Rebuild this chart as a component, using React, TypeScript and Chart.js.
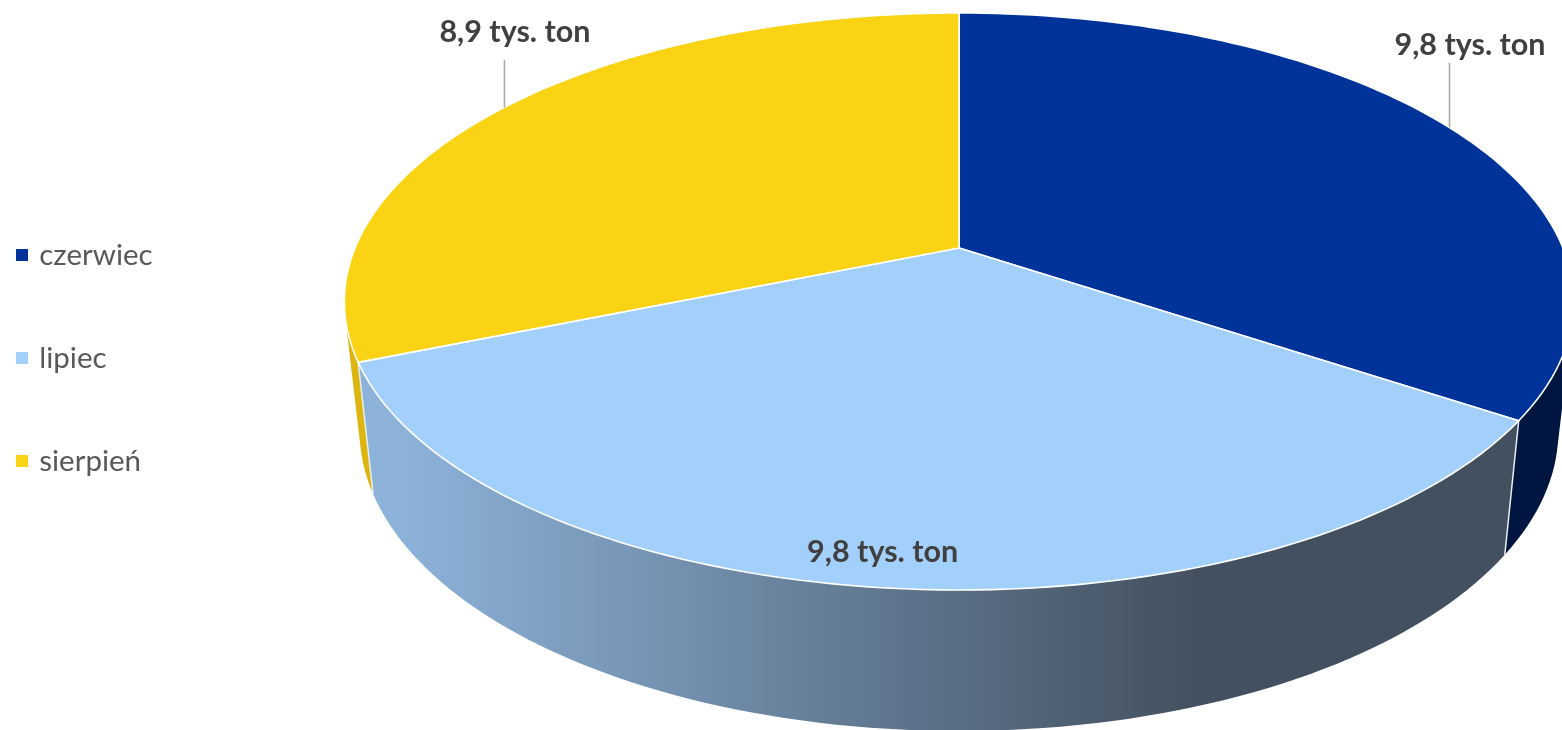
import React, { useEffect, useRef } from "react";
import { Chart, registerables } from "chart.js";

Chart.register(...registerables);

const months = ["czerwiec", "lipiec", "sierpień"];
const tonnes = [9.8, 9.8, 8.9];
const valueLabels = ["9,8 tys. ton", "9,8 tys. ton", "8,9 tys. ton"];
const topColors = ["#003399", "#A3CFFB", "#F9D314"];
const sideColors = ["#00153F", "#8DB2D9", "#DDB511"];

const UI_FONT = "Lato, 'Open Sans', sans-serif";
const CX = 959;
const K = 0.1854;
const TOP_PLANE = { a: 604, b: 278.6, cy: 248 };
const BOTTOM_PLANE = { a: 589, b: 290, cy: 375 };
const LEGEND_FONT = 29.5;
const LEGEND_PADDING = 103 - LEGEND_FONT;
// offset of each value label from the rim point at the middle of its slice
const LABEL_OFFSET = [
  { dx: 21, dy: -82, leaderEnd: 63 },
  { dx: -3, dy: -36, leaderEnd: null },
  { dx: 11, dy: -75.5, leaderEnd: 60 },
];

function project(plane: typeof TOP_PLANE, angle: number) {
  const u = Math.cos(angle);
  const v = Math.sin(angle);
  const w = 1 - K * v;
  return { x: CX + (plane.a * u) / w, y: plane.cy + (plane.b * v) / w };
}

function arcPoints(plane: typeof TOP_PLANE, start: number, end: number) {
  const pts = [];
  const n = 90;
  for (let i = 0; i <= n; i++) pts.push(project(plane, start + ((end - start) * i) / n));
  return pts;
}

const perspectivePie = {
  id: "perspectivePie",
  afterLayout(chart: any) {
    const legend = chart.legend;
    legend.left = 19.5 - LEGEND_PADDING;
    legend.right = legend.left + 400;
    legend.top -= 7;
    legend.bottom -= 7;
  },
  beforeDatasetsDraw(chart: any) {
    const ctx = chart.ctx as CanvasRenderingContext2D;
    const arcs = chart.getDatasetMeta(0).data;
    ctx.save();

    const grad = ctx.createLinearGradient(400, 0, 1200, 0);
    grad.addColorStop(0, sideColors[1]);
    grad.addColorStop(1, "#43505F");

    // side walls: one path of consistently wound strips between the two rims
    [2, 0, 1].forEach((i) => {
      const { startAngle, endAngle } = arcs[i];
      const top = arcPoints(TOP_PLANE, startAngle, endAngle);
      const bottom = arcPoints(BOTTOM_PLANE, startAngle, endAngle);
      ctx.beginPath();
      for (let j = 0; j < top.length - 1; j++) {
        const q = [top[j], top[j + 1], bottom[j + 1], bottom[j]];
        let area = 0;
        q.forEach((p, m) => {
          const r = q[(m + 1) % 4];
          area += p.x * r.y - r.x * p.y;
        });
        if (area < 0) q.reverse();
        q.forEach((p, m) => (m ? ctx.lineTo(p.x, p.y) : ctx.moveTo(p.x, p.y)));
        ctx.closePath();
      }
      ctx.fillStyle = i === 1 ? grad : sideColors[i];
      ctx.fill("nonzero");
    });

    // white edges where side walls meet
    [0, 1].forEach((i) => {
      const a = project(TOP_PLANE, arcs[i].endAngle);
      const b = project(BOTTOM_PLANE, arcs[i].endAngle);
      ctx.beginPath();
      ctx.moveTo(a.x, a.y);
      ctx.lineTo(b.x, b.y);
      ctx.strokeStyle = "#E8EDF2";
      ctx.lineWidth = 1.5;
      ctx.stroke();
    });

    // top faces
    arcs.forEach((arc: any, i: number) => {
      const pts = arcPoints(TOP_PLANE, arc.startAngle, arc.endAngle);
      ctx.beginPath();
      ctx.moveTo(CX, TOP_PLANE.cy);
      pts.forEach((p) => ctx.lineTo(p.x, p.y));
      ctx.closePath();
      ctx.fillStyle = topColors[i];
      ctx.fill();
      ctx.strokeStyle = "#FFFFFF";
      ctx.lineWidth = 1.6;
      ctx.lineJoin = "round";
      ctx.stroke();
    });

    // leaders and value labels
    ctx.font = `bold 30.5px ${UI_FONT}`;
    ctx.textAlign = "center";
    ctx.textBaseline = "middle";
    arcs.forEach((arc: any, i: number) => {
      const mid = project(TOP_PLANE, (arc.startAngle + arc.endAngle) / 2);
      const off = LABEL_OFFSET[i];
      if (off.leaderEnd !== null) {
        ctx.beginPath();
        ctx.moveTo(mid.x + 0.5, mid.y);
        ctx.lineTo(mid.x + 0.5, off.leaderEnd);
        ctx.strokeStyle = "#A6A6A6";
        ctx.lineWidth = 1.5;
        ctx.stroke();
      }
      ctx.fillStyle = "#404040";
      ctx.fillText(valueLabels[i], mid.x + off.dx, mid.y + off.dy);
    });
    ctx.restore();
    return false;
  },
};

export default function App() {
  const ref = useRef<HTMLCanvasElement>(null);
  useEffect(() => {
    const chart = new Chart(ref.current as HTMLCanvasElement, {
      type: "pie",
      data: {
        labels: months,
        datasets: [
          { data: tonnes, backgroundColor: topColors, borderColor: topColors, borderWidth: 7 },
        ],
      },
      options: {
        animation: false,
        responsive: false,
        devicePixelRatio: 1,
        layout: { padding: 0 },
        plugins: {
          tooltip: { enabled: false },
          legend: {
            position: "left",
            labels: {
              boxWidth: 5,
              boxHeight: 5,
              padding: LEGEND_PADDING,
              color: "#595959",
              font: { family: UI_FONT, size: LEGEND_FONT },
            },
          },
        },
      },
      plugins: [perspectivePie],
    } as any);
    return () => chart.destroy();
  }, []);
  return (
    <canvas
      ref={ref}
      width={1562}
      height={730}
      style={{ position: "fixed", left: 0, top: 0, display: "block" }}
    />
  );
}
